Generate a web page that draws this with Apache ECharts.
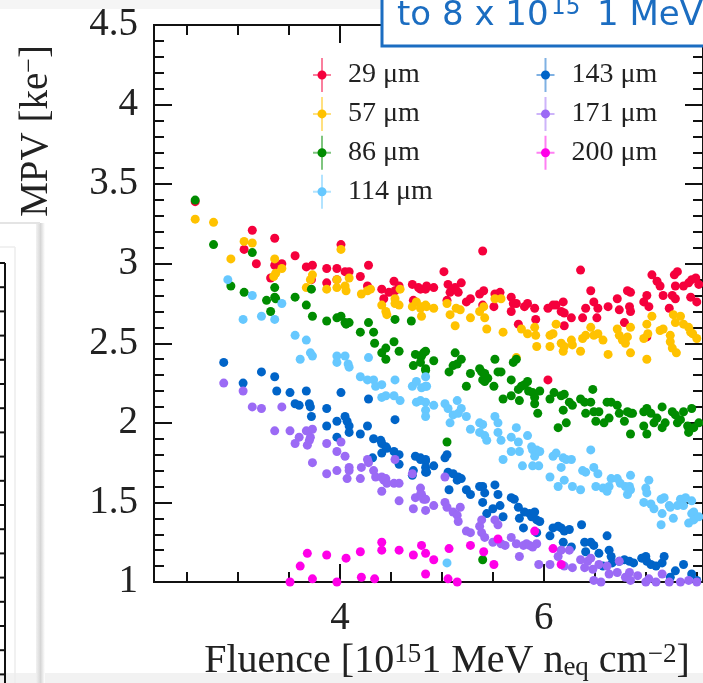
<!DOCTYPE html>
<html><head><meta charset="utf-8">
<script src="https://cdn.jsdelivr.net/npm/echarts@6/dist/echarts.min.js"></script>
<style>html,body{margin:0;padding:0;background:#fff}#c{width:703px;height:683px}</style>
</head><body><div id="c"></div>
<script>
const SERIF = '"Liberation Serif", "Times New Roman", serif';
const categories = ['29 μm','57 μm','86 μm','114 μm','143 μm','171 μm','200 μm'];
const colors = ['#f5003c','#ffc200','#008c00','#66c8ff','#0064c8','#9b6af5','#ff00e8'];
const colorsFaint = ['rgba(245,0,60,0.5)','rgba(255,194,0,0.5)','rgba(0,140,0,0.5)','rgba(102,200,255,0.5)','rgba(0,100,200,0.5)','rgba(155,106,245,0.5)','rgba(255,0,232,0.5)'];

const xMajorTicks = [4, 6];
const xMinorTicks = [2.5, 3, 3.5, 4.5, 5, 5.5, 6.5, 7, 7.5];
const X_MIN = 2.176, X_MAX = 7.561;
const Y_MIN = 1, Y_MAX = 4.5, Y_STEP = 0.5;

const d29 = [[2.58,3.39],[3.06,3.09],[3.14,3.21],[3.18,3.00],[3.32,2.91],[3.36,3.16],[3.36,2.99],[3.43,3.00],[3.56,3.05],[3.67,2.98],[3.72,2.90],[3.73,2.99],[3.87,2.97],[3.87,2.88],[3.97,2.97],[3.97,2.90],[4.01,3.12],[4.05,2.95],[4.09,2.95],[4.20,2.92],[4.27,2.86],[4.28,2.99],[4.41,2.84],[4.43,2.78],[4.48,2.82],[4.53,2.89],[4.54,2.83],[4.58,2.86],[4.71,2.87],[4.72,2.77],[4.77,2.85],[4.79,2.84],[4.84,2.84],[4.85,2.86],[4.92,2.85],[5.02,2.95],[5.05,2.77],[5.06,2.87],[5.08,2.82],[5.13,2.85],[5.16,2.82],[5.19,2.88],[5.24,2.76],[5.28,2.78],[5.37,2.81],[5.40,3.08],[5.40,2.74],[5.41,2.83],[5.51,2.73],[5.52,2.81],[5.57,2.82],[5.68,2.79],[5.68,2.70],[5.70,2.75],[5.73,2.75],[5.75,2.62],[5.81,2.73],[5.84,2.75],[5.91,2.72],[5.92,2.65],[6.04,2.72],[6.04,2.27],[6.09,2.74],[6.12,2.74],[6.17,2.70],[6.19,2.76],[6.20,2.69],[6.20,2.61],[6.27,2.66],[6.36,2.96],[6.38,2.66],[6.41,2.72],[6.46,2.83],[6.49,2.76],[6.52,2.66],[6.53,2.72],[6.63,2.73],[6.72,2.78],[6.74,2.71],[6.79,2.63],[6.82,2.83],[6.84,2.73],[6.85,2.82],[6.85,2.70],[6.98,2.76],[7.01,2.80],[7.01,2.54],[7.03,2.73],[7.06,2.93],[7.11,2.89],[7.14,2.86],[7.17,2.80],[7.23,2.72],[7.26,2.80],[7.28,2.93],[7.29,2.86],[7.29,2.78],[7.31,2.95],[7.37,2.86],[7.42,2.88],[7.44,2.79],[7.45,2.90],[7.49,2.91],[7.50,2.76],[7.52,2.87]];
const d57 = [[2.58,3.28],[2.76,3.26],[2.93,3.03],[3.06,3.14],[3.14,3.13],[3.35,2.92],[3.36,3.03],[3.37,2.94],[3.43,2.97],[3.67,2.85],[3.71,2.90],[3.73,2.93],[3.87,2.84],[3.97,2.90],[3.97,2.85],[4.01,3.09],[4.05,2.86],[4.06,2.83],[4.09,2.91],[4.21,2.81],[4.27,2.83],[4.30,2.84],[4.41,2.74],[4.45,2.70],[4.46,2.68],[4.54,2.78],[4.54,2.75],[4.58,2.74],[4.59,2.84],[4.71,2.73],[4.75,2.76],[4.79,2.72],[4.80,2.67],[4.80,2.73],[4.84,2.74],[4.85,2.73],[4.92,2.72],[5.05,2.75],[5.08,2.68],[5.13,2.61],[5.14,2.72],[5.18,2.71],[5.28,2.66],[5.37,2.70],[5.41,2.73],[5.42,2.66],[5.44,2.59],[5.52,2.78],[5.58,2.78],[5.60,2.57],[5.73,2.41],[5.78,2.59],[5.84,2.56],[5.91,2.60],[5.92,2.55],[5.93,2.48],[6.06,2.55],[6.06,2.48],[6.09,2.56],[6.12,2.62],[6.17,2.50],[6.19,2.45],[6.20,2.48],[6.27,2.52],[6.28,2.49],[6.36,2.45],[6.38,2.53],[6.41,2.55],[6.46,2.60],[6.49,2.55],[6.53,2.56],[6.58,2.52],[6.63,2.43],[6.72,2.59],[6.74,2.55],[6.77,2.52],[6.80,2.50],[6.82,2.54],[6.85,2.60],[6.85,2.44],[6.98,2.53],[7.01,2.62],[7.01,2.40],[7.02,2.56],[7.06,2.67],[7.14,2.58],[7.17,2.59],[7.24,2.55],[7.24,2.51],[7.26,2.47],[7.27,2.68],[7.29,2.63],[7.30,2.44],[7.34,2.67],[7.37,2.62],[7.42,2.60],[7.44,2.57],[7.46,2.56],[7.50,2.53]];
const d86 = [[2.58,3.40],[2.76,3.12],[2.93,2.86],[3.06,2.82],[3.14,3.07],[3.28,2.77],[3.32,2.70],[3.36,2.85],[3.36,2.79],[3.37,2.78],[3.56,2.79],[3.67,2.74],[3.72,2.84],[3.73,2.67],[3.87,2.64],[3.97,2.66],[4.01,2.67],[4.05,2.63],[4.06,2.62],[4.09,2.63],[4.20,2.57],[4.28,2.63],[4.33,2.57],[4.34,2.50],[4.41,2.44],[4.45,2.47],[4.45,2.40],[4.53,2.51],[4.54,2.65],[4.58,2.45],[4.70,2.64],[4.72,2.36],[4.74,2.43],[4.79,2.42],[4.79,2.38],[4.80,2.42],[4.82,2.44],[4.84,2.33],[4.84,2.45],[4.84,2.34],[4.92,2.39],[5.05,1.88],[5.07,2.32],[5.11,2.36],[5.13,2.44],[5.15,2.37],[5.19,2.40],[5.24,2.23],[5.28,2.31],[5.37,2.34],[5.39,2.32],[5.40,2.27],[5.40,1.14],[5.42,2.31],[5.42,2.26],[5.45,2.28],[5.51,2.23],[5.52,2.40],[5.55,2.32],[5.58,2.32],[5.60,2.15],[5.68,2.27],[5.68,2.17],[5.70,2.38],[5.73,2.40],[5.75,2.21],[5.76,2.14],[5.78,2.23],[5.81,2.24],[5.84,2.26],[5.85,2.20],[5.89,2.19],[5.91,2.16],[5.91,2.12],[5.94,2.06],[5.96,2.20],[6.06,2.15],[6.10,2.19],[6.14,1.97],[6.17,2.17],[6.19,2.08],[6.20,2.18],[6.22,2.00],[6.25,2.13],[6.28,2.11],[6.36,2.15],[6.40,2.13],[6.41,2.06],[6.46,2.13],[6.48,2.21],[6.49,2.07],[6.51,2.01],[6.54,2.07],[6.59,2.00],[6.62,2.13],[6.64,2.03],[6.66,2.13],[6.72,2.11],[6.74,2.06],[6.79,2.01],[6.82,2.07],[6.85,1.93],[6.85,2.06],[6.87,2.06],[6.98,2.07],[6.98,1.98],[7.01,2.09],[7.01,1.93],[7.05,2.06],[7.08,2.00],[7.11,2.03],[7.16,2.10],[7.16,1.97],[7.19,2.00],[7.26,2.07],[7.29,2.05],[7.31,2.00],[7.34,2.02],[7.37,2.07],[7.41,1.98],[7.42,1.94],[7.45,2.09],[7.47,1.97],[7.52,2.00]];
const d114 = [[2.90,2.90],[3.05,2.65],[3.14,2.80],[3.23,2.67],[3.36,2.65],[3.43,2.75],[3.56,2.55],[3.61,2.40],[3.67,2.52],[3.71,2.44],[3.73,2.42],[3.97,2.42],[3.97,2.38],[4.05,2.42],[4.08,2.37],[4.09,2.35],[4.20,2.29],[4.27,2.27],[4.28,2.41],[4.33,2.27],[4.35,2.23],[4.41,2.24],[4.41,2.16],[4.45,2.17],[4.53,2.17],[4.54,2.27],[4.59,2.14],[4.71,2.23],[4.75,2.26],[4.75,2.13],[4.79,2.14],[4.80,2.22],[4.84,2.23],[4.84,2.29],[4.84,2.13],[4.84,2.08],[4.84,2.04],[4.85,2.23],[4.92,2.11],[5.03,2.12],[5.05,1.12],[5.06,2.09],[5.08,2.00],[5.11,2.05],[5.15,2.14],[5.16,2.06],[5.19,2.09],[5.24,2.04],[5.28,1.96],[5.37,2.00],[5.37,1.94],[5.40,1.99],[5.42,1.92],[5.44,1.89],[5.52,2.04],[5.55,2.00],[5.55,1.94],[5.58,1.89],[5.60,1.77],[5.68,1.91],[5.68,1.82],[5.73,1.97],[5.75,1.88],[5.76,1.82],[5.79,1.73],[5.84,1.92],[5.88,1.85],[5.89,1.83],[5.89,1.73],[5.91,1.79],[5.93,1.83],[5.95,1.73],[5.96,1.82],[6.06,1.66],[6.09,1.79],[6.12,1.81],[6.14,1.60],[6.17,1.72],[6.19,1.78],[6.20,1.64],[6.22,1.77],[6.27,1.77],[6.28,1.60],[6.36,1.58],[6.38,1.70],[6.41,1.69],[6.46,1.83],[6.49,1.72],[6.51,1.60],[6.53,1.68],[6.58,1.59],[6.62,1.57],[6.64,1.60],[6.66,1.65],[6.72,1.65],[6.75,1.62],[6.80,1.60],[6.82,1.55],[6.84,1.60],[6.85,1.67],[6.85,1.58],[6.98,1.50],[7.00,1.59],[7.01,1.56],[7.03,1.64],[7.05,1.49],[7.08,1.46],[7.15,1.52],[7.15,1.36],[7.16,1.43],[7.18,1.53],[7.23,1.48],[7.24,1.47],[7.27,1.40],[7.31,1.48],[7.34,1.52],[7.37,1.48],[7.39,1.53],[7.42,1.37],[7.45,1.51],[7.45,1.43],[7.47,1.44],[7.47,1.39],[7.52,1.41]];
const d143 = [[2.86,2.38],[3.05,2.25],[3.23,2.32],[3.36,2.29],[3.38,2.20],[3.51,2.19],[3.56,2.12],[3.60,2.11],[3.67,2.20],[3.70,2.12],[3.71,2.10],[3.72,2.04],[3.87,2.09],[3.87,1.98],[3.97,2.01],[3.97,1.91],[4.01,2.19],[4.05,2.04],[4.07,2.01],[4.09,1.98],[4.09,1.94],[4.20,1.93],[4.27,1.98],[4.28,2.15],[4.32,1.78],[4.33,1.90],[4.40,1.89],[4.41,1.87],[4.41,1.81],[4.45,1.85],[4.46,1.84],[4.53,1.82],[4.54,2.02],[4.58,1.80],[4.58,1.74],[4.71,1.67],[4.72,1.70],[4.74,1.79],[4.79,1.78],[4.79,1.77],[4.84,1.77],[4.84,1.76],[4.84,1.72],[4.84,1.69],[4.85,1.69],[4.92,1.73],[5.03,1.78],[5.05,1.80],[5.06,1.69],[5.07,1.58],[5.11,1.68],[5.15,1.64],[5.16,1.66],[5.19,1.65],[5.24,1.58],[5.28,1.55],[5.37,1.60],[5.40,1.60],[5.40,1.50],[5.42,1.56],[5.44,1.43],[5.50,1.46],[5.52,1.61],[5.55,1.55],[5.57,1.48],[5.60,1.41],[5.68,1.53],[5.71,1.52],[5.75,1.47],[5.76,1.40],[5.80,1.34],[5.81,1.44],[5.86,1.43],[5.88,1.41],[5.91,1.44],[5.93,1.39],[5.93,1.31],[5.96,1.38],[6.06,1.29],[6.09,1.34],[6.14,1.35],[6.17,1.34],[6.19,1.25],[6.20,1.32],[6.25,1.33],[6.27,1.22],[6.37,1.36],[6.40,1.25],[6.41,1.19],[6.46,1.25],[6.49,1.23],[6.54,1.18],[6.58,1.10],[6.62,1.29],[6.64,1.20],[6.66,1.16],[6.67,1.12],[6.74,1.13],[6.79,1.14],[6.84,1.13],[6.88,1.12],[6.96,1.15],[7.00,1.16],[7.01,1.13],[7.05,1.11],[7.10,1.10],[7.16,1.12],[7.18,1.16],[7.24,1.03],[7.29,1.07],[7.37,1.11],[7.45,1.05],[7.50,1.01]];
const d171 = [[2.86,2.25],[3.05,2.20],[3.14,2.10],[3.23,2.09],[3.36,1.95],[3.43,2.10],[3.51,1.95],[3.56,1.87],[3.60,1.91],[3.67,1.95],[3.68,1.86],[3.70,1.89],[3.71,1.91],[3.73,1.96],[3.73,1.75],[3.87,1.87],[3.87,1.68],[3.97,1.82],[3.97,1.70],[4.01,1.88],[4.05,1.79],[4.07,1.65],[4.09,1.72],[4.09,1.70],[4.20,1.65],[4.21,1.72],[4.27,1.77],[4.28,1.75],[4.33,1.70],[4.35,1.66],[4.41,1.66],[4.41,1.57],[4.43,1.64],[4.45,1.65],[4.46,1.62],[4.53,1.62],[4.54,1.77],[4.58,1.62],[4.58,1.51],[4.71,1.68],[4.72,1.46],[4.74,1.53],[4.79,1.59],[4.79,1.55],[4.80,1.55],[4.82,1.52],[4.84,1.52],[4.84,1.45],[4.92,1.48],[5.03,1.66],[5.03,1.50],[5.05,1.47],[5.11,1.44],[5.15,1.42],[5.16,1.38],[5.18,1.47],[5.24,1.32],[5.28,1.31],[5.37,1.35],[5.39,1.31],[5.39,1.39],[5.42,1.28],[5.50,1.25],[5.52,1.39],[5.55,1.36],[5.58,1.24],[5.62,1.23],[5.68,1.28],[5.73,1.24],[5.76,1.16],[5.80,1.23],[5.83,1.24],[5.86,1.23],[5.89,1.22],[5.93,1.24],[5.95,1.11],[6.06,1.11],[6.14,1.16],[6.17,1.20],[6.20,1.10],[6.25,1.20],[6.28,1.09],[6.36,1.14],[6.40,1.09],[6.43,1.13],[6.46,1.15],[6.48,1.08],[6.49,1.01],[6.54,1.11],[6.56,1.00],[6.62,1.10],[6.64,1.05],[6.72,1.06],[6.74,1.13],[6.80,1.03],[6.84,1.06],[6.85,1.01],[6.92,1.04],[7.00,1.00],[7.03,1.02],[7.10,1.00],[7.16,1.05],[7.23,1.00],[7.34,1.00],[7.42,1.01],[7.50,1.00]];
const d200 = [[3.51,1.00],[3.61,1.10],[3.68,1.18],[3.73,1.02],[3.87,1.17],[3.97,1.00],[4.06,1.15],[4.20,1.19],[4.21,1.03],[4.34,1.02],[4.41,1.25],[4.41,1.20],[4.58,1.20],[4.72,1.17],[4.80,1.23],[4.84,1.18],[4.84,1.05],[4.92,1.14],[5.06,1.02],[5.07,1.21],[5.15,1.00],[5.28,1.23],[5.41,1.19],[5.51,1.11],[5.55,1.27],[5.91,1.32],[6.09,1.21],[6.17,1.11]];
const seriesData = [d29, d57, d86, d114, d143, d171, d200];

const chart = echarts.init(document.getElementById('c'), null, {renderer: 'canvas'});

const AXC = '#111';
function xAx(pos, ticks, len, labels) {
  return {
    type: 'value', gridIndex: 0, position: pos, min: X_MIN, max: X_MAX,
    axisLine: {show: true, onZero: false, lineStyle: {color: AXC, width: 2}},
    axisTick: {show: true, inside: true, length: len, customValues: ticks, lineStyle: {color: AXC, width: 2}},
    axisLabel: labels ? {show: true, customValues: ticks, margin: 17, fontSize: 39, fontFamily: SERIF, color: '#222'} : {show: false},
    splitLine: {show: false}
  };
}
function yAx(pos, labels) {
  return {
    type: 'value', gridIndex: 0, position: pos, min: Y_MIN, max: Y_MAX, interval: Y_STEP,
    axisLine: {show: true, onZero: false, lineStyle: {color: AXC, width: 2}},
    axisTick: {show: true, inside: true, length: 18, lineStyle: {color: AXC, width: 2}},
    minorTick: {show: true, splitNumber: 5, length: 10, lineStyle: {color: AXC, width: 2}},
    axisLabel: labels ? {show: true, margin: 16, fontSize: 39, fontFamily: SERIF, color: '#222'} : {show: false},
    splitLine: {show: false}, minorSplitLine: {show: false}
  };
}

const crossIcon = 'path://M8,0H10V16H18V18H10V34H8V18H0V16H8Z';
const dotIcon = 'path://M0,0H0.01V0.01H0Z M17.99,33.99H18V34H17.99Z M13.5,17A4.5,4.5,0,1,1,4.5,17A4.5,4.5,0,1,1,13.5,17Z';
function legendBlock(idxs, left, icon, textVisible) {
  return {
    show: true, orient: 'vertical', left: left, top: 58, padding: 0,
    itemWidth: 18, itemHeight: 34, itemGap: 4.9, selectedMode: false,
    data: idxs.map(i => ({name: categories[i], icon: icon,
      itemStyle: {color: textVisible ? colors[i] : colorsFaint[i]}})),
    textStyle: {fontSize: 28, fontFamily: SERIF, color: textVisible ? '#222' : 'rgba(0,0,0,0)', padding: [0, 0, 0, 12]}
  };
}

const graphics = [
  {type: 'rect', z: -10, shape: {x: 0, y: 0, width: 703, height: 9}, style: {fill: '#f5f5f5'}},
  {type: 'rect', z: -10, shape: {x: 0, y: 673, width: 703, height: 10}, style: {fill: '#f2f2f2'}},
  {type: 'rect', z: -9, shape: {x: 36, y: 223, width: 9, height: 460},
    style: {fill: new echarts.graphic.LinearGradient(0, 0, 1, 0, [{offset: 0, color: '#f2f2f2'}, {offset: 0.5, color: '#d6d6d6'}, {offset: 1, color: '#ffffff'}])}},
  {type: 'line', z: -9, shape: {x1: 0, y1: 223, x2: 40, y2: 223}, style: {stroke: '#e4e4e4', lineWidth: 2}},
  {type: 'line', z: -9, shape: {x1: 15, y1: 247, x2: 15, y2: 683}, style: {stroke: '#ececec', lineWidth: 1.5}},
  {type: 'line', z: -9, shape: {x1: 0, y1: 247, x2: 15, y2: 247}, style: {stroke: '#ececec', lineWidth: 1.5}},
  {type: 'line', z: -8, shape: {x1: 5, y1: 263, x2: 5, y2: 683}, style: {stroke: '#111', lineWidth: 2}}
];
for (let k = 0; k < 18; k++) {
  graphics.push({type: 'line', z: -8, shape: {x1: 0, y1: 263 + 24.2 * k, x2: 5, y2: 263 + 24.2 * k}, style: {stroke: '#111', lineWidth: 2}});
}
graphics.push(
  {type: 'text', z: 50, x: 37, y: 131, rotation: Math.PI / 2,
    style: {text: 'MPV [ke{sup|−}]', fontSize: 39, fontFamily: SERIF, fill: '#222', align: 'center', verticalAlign: 'middle',
      rich: {sup: {fontSize: 26, fontFamily: SERIF, fill: '#222', verticalAlign: 'top'}}}},
  {type: 'text', z: 50, x: 447, y: 661,
    style: {text: 'Fluence [10{sup|15}1 MeV n{sub|eq} cm{sup|−2}]', fontSize: 40, fontFamily: SERIF, fill: '#222', align: 'center', verticalAlign: 'middle',
      rich: {sup: {fontSize: 27, fontFamily: SERIF, fill: '#222', verticalAlign: 'top'},
             sub: {fontSize: 27, fontFamily: SERIF, fill: '#222', verticalAlign: 'bottom'}}}},
  {type: 'rect', z: 100, shape: {x: 382, y: -20, width: 360, height: 66}, style: {fill: '#ffffff', stroke: '#1b6dc1', lineWidth: 3}},
  {type: 'text', z: 101, x: 397, y: 16, style: {text: 'to 8 x 10', fontSize: 34, fontFamily: '"DejaVu Sans", sans-serif', fill: '#1b6dc1', align: 'left', verticalAlign: 'middle'}},
  {type: 'text', z: 101, x: 551, y: 8, style: {text: '15', fontSize: 23, fontFamily: '"DejaVu Sans", sans-serif', fill: '#1b6dc1', align: 'left', verticalAlign: 'middle'}},
  {type: 'text', z: 101, x: 597, y: 16, style: {text: '1 MeV', fontSize: 34, fontFamily: '"DejaVu Sans", sans-serif', fill: '#1b6dc1', align: 'left', verticalAlign: 'middle'}}
);

const option = {
  animation: false,
  backgroundColor: '#ffffff',
  grid: {left: 154, top: 25, right: -3, bottom: 101, containLabel: false},
  xAxis: [
    xAx('bottom', xMajorTicks, 18, true),
    xAx('bottom', xMinorTicks, 10, false),
    xAx('top', xMajorTicks, 18, false),
    xAx('top', xMinorTicks, 10, false)
  ],
  yAxis: [yAx('left', true), yAx('right', false)],
  legend: [
    legendBlock([0, 1, 2, 3], 313, crossIcon, false),
    legendBlock([0, 1, 2, 3], 313, dotIcon, true),
    legendBlock([4, 5, 6], 536.5, crossIcon, false),
    legendBlock([4, 5, 6], 536.5, dotIcon, true)
  ],
  graphic: graphics,
  series: seriesData.map((d, i) => ({
    name: categories[i], type: 'scatter', xAxisIndex: 0, yAxisIndex: 0,
    data: d, symbol: 'circle', symbolSize: 9,
    itemStyle: {color: colors[i], opacity: 1}, clip: true,
    emphasis: {disabled: true}
  }))
};
chart.setOption(option);
</script>
</body></html>
